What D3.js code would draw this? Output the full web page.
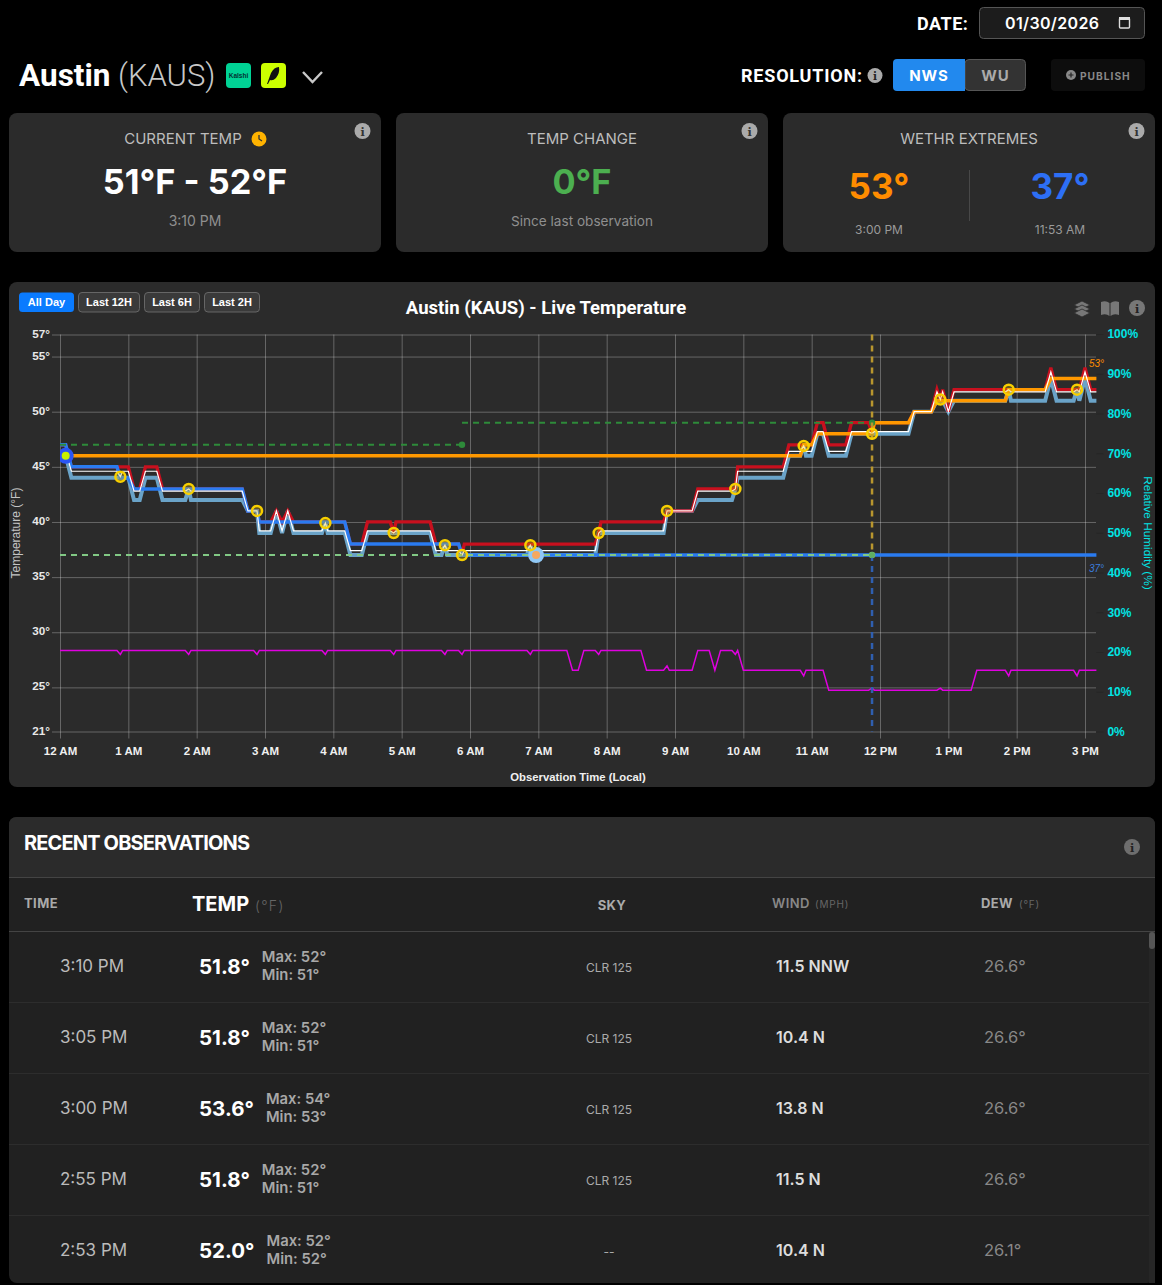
<!DOCTYPE html>
<html>
<head>
<meta charset="utf-8">
<title>Austin (KAUS)</title>
<script src="https://cdn.jsdelivr.net/npm/d3@7"></script>
<style>
html,body{margin:0;padding:0;background:#000;overflow:hidden;}
svg{display:block;}
text{font-family:Inter,Roboto,sans-serif;}
.rb{font-family:Roboto,sans-serif;}
.ar{font-family:"Liberation Sans",Arial,sans-serif;}
.axis path{display:none;}
.axis text{font-family:"Liberation Sans",Arial,sans-serif;font-size:11.7px;font-weight:bold;}
</style>
</head>
<body>
<div id="chartplace"></div>
<script>
// observations, minutes after midnight
var obsMinutes = [0,5,10,50,53,55,60,65,70,75,85,90,110,113,115,160,165,173,175,185,190,195,200,205,230,233,235,250,255,265,270,290,293,295,325,330,335,338,340,350,353,355,410,413,415,470,473,475,530,533,555,560,590,593,595,635,640,650,653,655,660,665,670,675,690,695,710,713,715,745,750,765,770,773,775,780,785,830,833,835,865,870,875,890,893,895,900,905,910];
var tempMax = [47,47,45,45,45,45,45,43,43,45,45,43,43,43,43,43,41,41,40,40,41,40,41,40,40,40,40,40,38,38,40,40,39,40,40,38,38,38,38,38,37,38,38,38,38,38,39,40,40,41,41,43,43,43,45,45,47,47,47,47,47,49,49,47,47,49,49,48,49,49,50,50,52,51,52,50,52,52,52,52,52,54,52,52,52,52,54,52,52];
var tempObs = [46.4,46.4,44.6,44.6,44.1,44.6,44.6,42.8,42.8,44.6,44.6,42.8,42.8,43,42.8,42.8,41,41,39.2,39.2,41,39.2,41,39.2,39.2,39.9,39.2,39.2,37.4,37.4,39.2,39.2,39,39.2,39.2,37.4,37.4,37.9,37.4,37.4,37,37.4,37.4,37.9,37.4,37.4,39,39.2,39.2,41,41,42.8,42.8,43,44.6,44.6,46.4,46.4,46.9,46.4,46.4,48.2,48.2,46.4,46.4,48.2,48.2,48,48.2,48.2,50,50,51.8,51.1,51.8,50,51.8,51.8,52,51.8,51.8,53.6,51.8,51.8,52,51.8,53.6,51.8,51.8];
var tempMin = [46,46,44,44,44,44,44,42,42,44,44,42,42,43,42,42,41,41,39,39,41,39,41,39,39,40,39,39,37,37,39,39,39,39,39,37,37,38,37,37,37,37,37,38,37,37,39,39,39,41,41,42,42,43,44,44,46,46,47,46,46,48,48,46,46,48,48,48,48,48,50,50,51,51,51,50,51,51,52,51,51,53,51,51,52,51,53,51,51];

// running low and high of the day
var lowMinutes = [0,5,10,50,53,60,65,160,165,173,175,250,255,350,353,910];
var lowTemps = [47,47,45,45,44,44,43,43,41,41,40,40,38,38,37,37];
var highMinutes = [5,650,653,660,665,713,715,745,750,765,770,830,833,865,870,910];
var highTemps = [46,46,47,47,48,48,49,49,50,50,51,51,52,52,53,53];

// relative humidity
var humMinutes = [0,50,53,55,110,113,115,170,173,175,230,233,235,290,293,295,335,338,340,350,353,355,410,413,415,445,450,455,460,470,473,475,510,515,530,533,535,555,560,570,575,580,590,593,595,600,650,653,655,670,675,710,713,715,770,773,775,800,805,830,833,835,890,893,895,910];
var humidity = [20.4,20.4,19.4,20.4,20.4,19.4,20.4,20.4,19.4,20.4,20.4,19.4,20.4,20.4,19.4,20.4,20.4,19.4,20.4,20.4,19.4,20.4,20.4,19.4,20.4,20.4,15.4,15.4,20.4,20.4,19.4,20.4,20.4,15.4,15.4,16.5,15.4,15.4,20.4,20.4,15.4,20.4,20.4,19.4,20.4,15.4,15.4,14,15.4,15.4,10.4,10.4,10.9,10.4,10.4,10.9,10.4,10.4,15.4,15.4,14,15.4,15.4,14,15.4,15.4];

// hourly reports, the yellow rings
var metarMinutes = [53,113,173,233,293,338,353,413,473,533,593,653,713,773,833,893];
var metarTemps = [44.1,43,41,39.9,39,37.9,37,37.9,39,41,43,46.9,48,51.1,52,52];

// forecast guide lines
var forecastHigh1 = {from:0, to:353, temp:47};
var forecastHigh2 = {from:353, to:713, temp:49};
var forecastLow = {from:0, to:713, temp:37};
var nowMinute = 713;
var startMarker = {minute:5, temp:46};
var lowMarker = {minute:418, temp:37};

// axes
var hourTicks = [0,60,120,180,240,300,360,420,480,540,600,660,720,780,840,900];
var hourLabels = ["12 AM","1 AM","2 AM","3 AM","4 AM","5 AM","6 AM","7 AM","8 AM","9 AM","10 AM","11 AM","12 PM","1 PM","2 PM","3 PM"];
var tempTicks = [21,25,30,35,40,45,50,55,57];
var humTicks = [0,10,20,30,40,50,60,70,80,90,100];

// table
var rowTimes = ["3:10 PM","3:05 PM","3:00 PM","2:55 PM","2:53 PM"];
var rowTemps = ["51.8°","51.8°","53.6°","51.8°","52.0°"];
var rowMaxes = ["Max: 52°","Max: 52°","Max: 54°","Max: 52°","Max: 52°"];
var rowMins = ["Min: 51°","Min: 51°","Min: 53°","Min: 51°","Min: 52°"];
var rowSky = ["CLR 125","CLR 125","CLR 125","CLR 125","--"];
var rowWind = ["11.5 NNW","10.4 N","13.8 N","11.5 N","10.4 N"];
var rowDew = ["26.6°","26.6°","26.6°","26.6°","26.1°"];

var svg = d3.select("#chartplace").append("svg").attr("width",1162).attr("height",1285);

function label(parent,x,y,str,size,weight,color,anchor,cls){
	var t = parent.append("text").attr("x",x).attr("y",y).text(str)
		.attr("font-size",size).attr("font-weight",weight).attr("fill",color)
		.attr("text-anchor",anchor||"start").attr("dominant-baseline","central");
	if(cls) t.attr("class",cls);
	return t;
}
function infoIcon(x,y,r,color,dark){
	svg.append("circle").attr("cx",x).attr("cy",y).attr("r",r).attr("fill",color);
	svg.append("text").attr("x",x).attr("y",y+0.5).text("i").attr("text-anchor","middle").attr("dominant-baseline","central")
		.attr("font-size",r*1.4).attr("font-weight","bold").attr("fill",dark).style("font-family","DejaVu Serif");
}
function panel(x,y,w,h,fill){
	return svg.append("rect").attr("x",x).attr("y",y).attr("width",w).attr("height",h).attr("rx",8).attr("fill",fill);
}

// top bar
label(svg,917,23,"DATE:",18,700,"#fff","start","rb").attr("letter-spacing",0.5);
svg.append("rect").attr("x",979.5).attr("y",7.5).attr("width",165).attr("height",31).attr("rx",4).attr("fill","#1c1c1c").attr("stroke","#555");
label(svg,1005,23,"01/30/2026",16,600,"#fff").attr("letter-spacing",0.35);
svg.append("rect").attr("x",1119.5).attr("y",18).attr("width",10).attr("height",10).attr("rx",1).attr("fill","none").attr("stroke","#ddd").attr("stroke-width",1.4);
svg.append("rect").attr("x",1119).attr("y",17).attr("width",11).attr("height",3).attr("fill","#ddd");

label(svg,19,75,"Austin",31.5,700,"#fff","start","rb");
label(svg,118,75,"(KAUS)",31,300,"#c8c8c8","start","rb");
svg.append("rect").attr("x",226).attr("y",63).attr("width",25).attr("height",25).attr("rx",4).attr("fill","#00d395");
label(svg,238.5,75.5,"Kalshi",6.5,700,"#033","middle","ar");
svg.append("rect").attr("x",261).attr("y",63).attr("width",25).attr("height",25).attr("rx",4).attr("fill","#ccff00");
svg.append("path").attr("d","M267 84 L271 73 Q274 67 279 67 Q280 73 276 78 Q273 81 270 80 L268 84 Z").attr("fill","#111");
svg.append("path").attr("d","M303 72 L312.5 82 L322 72").attr("fill","none").attr("stroke","#c8c8c8").attr("stroke-width",2.4);

label(svg,741,75,"RESOLUTION:",18,700,"#fff","start","rb").attr("letter-spacing",0.8);
infoIcon(875,75.5,7.5,"#aaa","#222");
svg.append("rect").attr("x",965).attr("y",59.5).attr("width",60.5).attr("height",31).attr("rx",4).attr("fill","#333").attr("stroke","#555");
svg.append("path").attr("d","M965 59 V91 H897 Q893 91 893 87 V63 Q893 59 897 59 Z").attr("fill","#2289ee");
label(svg,929,75.5,"NWS",15,700,"#fff","middle").attr("letter-spacing",1);
label(svg,995.5,75.5,"WU",15,700,"#aaa","middle").attr("letter-spacing",1);
svg.append("rect").attr("x",1051).attr("y",59).attr("width",94).attr("height",32).attr("rx",4).attr("fill","#0d0d0d");
svg.append("circle").attr("cx",1071).attr("cy",75).attr("r",5).attr("fill","#888");
svg.append("path").attr("d","M1068.5 75 H1073.5 M1071 72.5 V77.5").attr("stroke","#222").attr("stroke-width",1.2);
label(svg,1080,75.5,"PUBLISH",10.2,700,"#888").attr("letter-spacing",1);

// stat cards
panel(9,113,372,139,"#2b2b2b");
panel(396,113,372,139,"#2b2b2b");
panel(783,113,372,139,"#2b2b2b");
label(svg,183,138.5,"CURRENT TEMP",15,400,"#bdbdbd","middle");
svg.append("circle").attr("cx",259).attr("cy",139).attr("r",7.5).attr("fill","#ffb300");
svg.append("path").attr("d","M259 135 V139 L262 141").attr("fill","none").attr("stroke","#333").attr("stroke-width",1.3);
label(svg,195,181,"51°F - 52°F",34.3,700,"#fff","middle");
label(svg,195,220.5,"3:10 PM",14,400,"#8f8f8f","middle");
label(svg,582,138.5,"TEMP CHANGE",15,400,"#bdbdbd","middle");
label(svg,582,181,"0°F",34.3,700,"#4caf50","middle");
label(svg,582,220.5,"Since last observation",13.6,400,"#8f8f8f","middle");
label(svg,969,138.5,"WETHR EXTREMES",15,400,"#bdbdbd","middle");
label(svg,879,186,"53°",35,700,"#ff8c00","middle");
label(svg,1060,186,"37°",35,700,"#2d6ff5","middle");
svg.append("line").attr("x1",969.5).attr("x2",969.5).attr("y1",170).attr("y2",221).attr("stroke","#484848");
label(svg,879,229.5,"3:00 PM",12,400,"#9a9a9a","middle");
label(svg,1060,229.5,"11:53 AM",12,400,"#9a9a9a","middle");
infoIcon(362.5,131,8,"#aaa","#333");
infoIcon(749.5,131,8,"#aaa","#333");
infoIcon(1136.5,131,8,"#aaa","#333");

// chart panel
panel(9,282,1146,505,"#2b2b2b");
var rangeButtons = ["All Day","Last 12H","Last 6H","Last 2H"];
var rangeLefts = [19,78,144,204];
var rangeWidths = [55,62,56,56];
rangeButtons.forEach(function(name,i){
	svg.append("rect").attr("x",rangeLefts[i]+(i?0.5:0)).attr("y",292.5).attr("width",rangeWidths[i]-(i?1:0)).attr("height",19.5).attr("rx",3.5)
		.attr("fill",i==0?"#0a7bff":"#3a3a3a").attr("stroke",i==0?"none":"#666");
	label(svg,rangeLefts[i]+rangeWidths[i]/2,302,name,11,700,"#fff","middle","ar");
});
label(svg,546,308,"Austin (KAUS) - Live Temperature",18.5,700,"#fff","middle","rb");
// layers and book icons
[0,4,8].forEach(function(d){
	svg.append("path").attr("d","M1082 "+(301+d)+" l8 4 l-8 4 l-8 -4 Z").attr("fill","#777").attr("stroke","#2b2b2b").attr("stroke-width",0.8);
});
svg.append("path").attr("d","M1101 302 Q1106 300 1109.5 303 V316 Q1106 313 1101 315 Z M1119 302 Q1114 300 1110.5 303 V316 Q1114 313 1119 315 Z").attr("fill","#777");
infoIcon(1137,308,8,"#777","#222");

var x = d3.scaleLinear().domain([0,910]).range([60,1096.4]);
var y = d3.scaleLinear().domain([21,57]).range([731.5,334.5]);
var yHum = d3.scaleLinear().domain([0,100]).range([731.5,334]);

var gridColor = "rgba(255,255,255,0.28)";
var xAxis = svg.append("g").attr("class","axis").attr("transform","translate(0,731.5)")
	.call(d3.axisBottom(x).tickValues(hourTicks).tickSize(-397).tickPadding(12).tickFormat(function(d,i){ return hourLabels[i]; }));
xAxis.selectAll("line").attr("stroke",gridColor).attr("y2",-397);
xAxis.selectAll("g.tick").append("line").attr("y1",0).attr("y2",7).attr("stroke",gridColor);
xAxis.selectAll("text").attr("fill","#f0f0f0").attr("y",19).attr("dy",0).attr("dominant-baseline","central").style("font-size","11.5px");

var yAxis = svg.append("g").attr("class","axis").attr("transform","translate(60,0)")
	.call(d3.axisLeft(y).tickValues(tempTicks).tickSize(8).tickPadding(2).tickFormat(function(d){ return d+"°"; }));
yAxis.selectAll("line").attr("stroke",gridColor);
yAxis.selectAll("g.tick").append("line").attr("x1",0).attr("x2",1036).attr("stroke",gridColor);
yAxis.selectAll("text").attr("fill","#e8e8e8").attr("x",-10).attr("dy",".22em");

var yAxisR = svg.append("g").attr("class","axis").attr("transform","translate(1096.4,0)")
	.call(d3.axisRight(yHum).tickValues(humTicks).tickSize(7).tickPadding(4).tickFormat(function(d){ return d+"%"; }));
yAxisR.selectAll("line").attr("stroke","#262626");
yAxisR.selectAll("text").attr("fill","#00e5e5").style("font-size","12px");

svg.append("text").attr("transform","translate(16,533) rotate(-90)").text("Temperature (°F)").attr("class","ar")
	.attr("text-anchor","middle").attr("dominant-baseline","central").attr("font-size",12).attr("fill","#c4c4c4");
svg.append("text").attr("transform","translate(1148,533) rotate(90)").text("Relative Humidity (%)").attr("class","ar")
	.attr("text-anchor","middle").attr("dominant-baseline","central").attr("font-size",11.8).attr("fill","#00e5e5");
label(svg,578,777,"Observation Time (Local)",11.3,700,"#f0f0f0","middle","ar");

// lines
function tempLine(minutes,values){
	var line = d3.line().x(function(d,i){ return x(minutes[i]); }).y(function(d){ return y(d); });
	return line(values);
}
var defs = svg.append("defs");
defs.append("clipPath").attr("id","plotclip").append("rect").attr("x",60).attr("y",334).attr("width",1037).attr("height",398);
var plot = svg.append("g").attr("clip-path","url(#plotclip)");

var humLine = d3.line().x(function(d,i){ return x(humMinutes[i]); }).y(function(d){ return yHum(d); });
plot.append("path").attr("d",humLine(humidity)).attr("stroke","#e000e0").attr("stroke-width",1.5).attr("fill","none");

plot.append("path").attr("d",tempLine(obsMinutes,tempMin)).attr("stroke","#6aa3c8").attr("stroke-width",4).attr("fill","none");
plot.append("path").attr("d",tempLine(obsMinutes,tempMax)).attr("stroke","#c8101e").attr("stroke-width",3.3).attr("fill","none");
plot.append("path").attr("d",tempLine(lowMinutes,lowTemps)).attr("stroke","#2a7bf0").attr("stroke-width",3.5).attr("fill","none");
plot.append("path").attr("d",tempLine(highMinutes,highTemps)).attr("stroke","#ff9800").attr("stroke-width",3.5).attr("fill","none");
plot.append("path").attr("d",tempLine(obsMinutes,tempObs)).attr("stroke","#fff").attr("stroke-width",1.2).attr("fill","none");

// forecast dashes
function guide(f,color){
	plot.append("line").attr("x1",x(f.from)).attr("x2",x(f.to)).attr("y1",y(f.temp)).attr("y2",y(f.temp))
		.attr("stroke",color).attr("stroke-width",2).attr("stroke-dasharray","6,5");
	plot.append("circle").attr("cx",x(f.to)).attr("cy",y(f.temp)).attr("r",3.2).attr("fill",color);
}
guide(forecastHigh1,"#2e8b3a");
guide(forecastHigh2,"#2e8b3a");
guide(forecastLow,"#82c985");
plot.append("line").attr("x1",x(nowMinute)).attr("x2",x(nowMinute)).attr("y1",y(57)).attr("y2",y(forecastLow.temp))
	.attr("stroke","#b8962e").attr("stroke-width",2.5).attr("stroke-dasharray","6,5");
plot.append("line").attr("x1",x(nowMinute)).attr("x2",x(nowMinute)).attr("y1",y(forecastLow.temp)).attr("y2",y(21))
	.attr("stroke","#2f5fb0").attr("stroke-width",2.5).attr("stroke-dasharray","6,5");
plot.append("circle").attr("cx",x(nowMinute)).attr("cy",y(forecastLow.temp)).attr("r",3).attr("fill","#5fae62");

// markers
plot.append("circle").attr("cx",x(lowMarker.minute)).attr("cy",y(lowMarker.temp)).attr("r",8).attr("fill","#90c8f5");
plot.append("circle").attr("cx",x(lowMarker.minute)).attr("cy",y(lowMarker.temp)).attr("r",4).attr("fill","#f5a860");
plot.selectAll(".metar").data(metarTemps).enter().append("circle").attr("class","metar")
	.attr("cx",function(d,i){ return x(metarMinutes[i]); })
	.attr("cy",function(d){ return y(d); })
	.attr("r",5).attr("fill","rgba(230,185,0,0.3)").attr("stroke","#f7cf00").attr("stroke-width",2.5);
plot.append("circle").attr("cx",x(startMarker.minute)).attr("cy",y(startMarker.temp)).attr("r",8).attr("fill","#2a55f5");
plot.append("circle").attr("cx",x(startMarker.minute)).attr("cy",y(startMarker.temp)).attr("r",4).attr("fill","#c8f000");

label(svg,1089,y(53)-15,"53°",10,400,"#ff8c00","start","ar").attr("font-style","italic");
label(svg,1089,y(37)+13,"37°",10,400,"#3b7ddd","start","ar").attr("font-style","italic");

// observations table
panel(9,817,1146,466,"#212121");
svg.append("path").attr("d","M9 877 V825 Q9 817 17 817 H1147 Q1155 817 1155 825 V877 Z").attr("fill","#2b2b2b");
svg.append("line").attr("x1",9).attr("x2",1155).attr("y1",877.5).attr("y2",877.5).attr("stroke","#444");
svg.append("line").attr("x1",9).attr("x2",1155).attr("y1",931.5).attr("y2",931.5).attr("stroke","#444");
label(svg,24,843,"RECENT OBSERVATIONS",20,700,"#fff").attr("letter-spacing",-0.85);
infoIcon(1132,847,8,"#6e6e6e","#222");
label(svg,24,903,"TIME",13,700,"#aaa").attr("letter-spacing",0.4);
label(svg,192,904,"TEMP",20,700,"#fff");
label(svg,255,905,"(°F)",14,300,"#666").attr("letter-spacing",1.3);
label(svg,612,904.5,"SKY",13,700,"#aaa","middle").attr("letter-spacing",0.4);
label(svg,772,903,"WIND",13,600,"#888").attr("letter-spacing",0.4);
label(svg,815,904,"(MPH)",10,400,"#666").attr("letter-spacing",0.8);
label(svg,981,903,"DEW",13,700,"#aaa").attr("letter-spacing",0.4);
label(svg,1019,904,"(°F)",10,400,"#666").attr("letter-spacing",0.8);

var rowTop = 931, rowHeight = 71;
rowTimes.forEach(function(t,i){
	var cy = rowTop+rowHeight*i+35;
	if(i>0) svg.append("line").attr("x1",9).attr("x2",1149).attr("y1",rowTop+rowHeight*i+0.5).attr("y2",rowTop+rowHeight*i+0.5).attr("stroke","#2d2d2d");
	label(svg,60,cy,t,17,400,"#bbb");
	var tt = label(svg,199,cy,rowTemps[i],20.5,700,"#fff");
	var nx = 199+tt.node().getComputedTextLength()+12;
	label(svg,nx,cy-9.5,rowMaxes[i],14.8,600,"#a8a8a8");
	label(svg,nx,cy+9,rowMins[i],14.8,600,"#a8a8a8");
	label(svg,609,cy+1,rowSky[i],12,400,"#aaa","middle");
	label(svg,776,cy,rowWind[i],16,600,"#ddd");
	label(svg,984,cy,rowDew[i],16.5,400,"#888");
});
svg.append("rect").attr("x",1149).attr("y",932).attr("width",6).attr("height",351).attr("fill","#262626");
svg.append("rect").attr("x",1149).attr("y",932).attr("width",6).attr("height",17).attr("rx",3).attr("fill","#555");
</script>
</body>
</html>
